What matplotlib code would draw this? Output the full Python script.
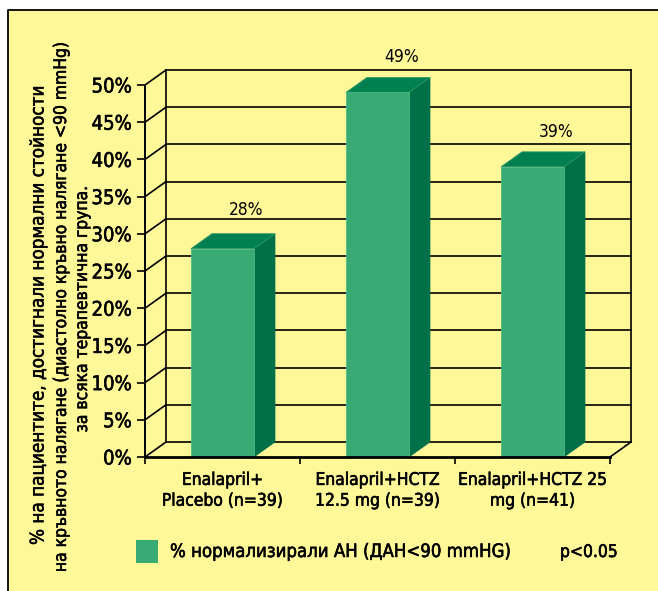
import matplotlib
matplotlib.use("Agg")
import matplotlib.pyplot as plt
from matplotlib import font_manager as fm
from matplotlib import patheffects as pe
from matplotlib.patches import Rectangle, Polygon
from matplotlib.lines import Line2D

# ---------------- data ----------------
categories = ["Enalapril+\nPlacebo (n=39)",
              "Enalapril+HCTZ\n12.5 mg (n=39)",
              "Enalapril+HCTZ 25\nmg (n=41)"]
values = [28, 49, 39]
value_labels = ["28%", "49%", "39%"]
yticks = [0, 5, 10, 15, 20, 25, 30, 35, 40, 45, 50]
ytick_labels = [f"{t}%" for t in yticks]
ylabel_lines = ["% на пациентите, достигнали нормални стойности",
                "на кръвното налягане (диастолно кръвно налягане <90 mmHg)",
                "за всяка терапевтична група."]
legend_label = "% нормализирали АН (ДАН<90 mmHG)"
pvalue_text = "p<0.05"

# ---------------- style ----------------
BG = "#FFF899"
FRONT = "#38AA74"
SIDE = "#007048"
TOP = "#008050"
TXT = "#000000"
BOLDEN = [pe.withStroke(linewidth=0.4, foreground=TXT)]

names = {f.name for f in fm.fontManager.ttflist}
FAM = "DejaVu Sans"
STRETCH = "normal"
if "Liberation Sans Narrow" in names:
    FAM = "Liberation Sans Narrow"
elif "DejaVu Sans Condensed" in names:
    FAM = "DejaVu Sans Condensed"
else:
    for f in fm.fontManager.ttflist:
        if f.name == "DejaVu Sans" and str(f.stretch) in ("condensed", "semi-condensed"):
            STRETCH = "condensed"
            break
plt.rcParams["font.family"] = [FAM, "DejaVu Sans"]
plt.rcParams["font.stretch"] = STRETCH

W, H = 658, 591
fig = plt.figure(figsize=(W / 100, H / 100), dpi=100)
fig.patch.set_facecolor("white")

# yellow panel with black top/left border
fx0 = 8 / W
fy1 = (H - 10) / H
fig.patches.append(Rectangle((fx0, 0), 1 - fx0, fy1, transform=fig.transFigure,
                             facecolor=BG, edgecolor="none", zorder=-10))
fig.lines.append(Line2D([fx0, fx0, 1], [0, fy1, fy1], transform=fig.transFigure,
                        color="black", lw=1.3, zorder=-9))

# front plane of the axes
left_px, right_px, bot_px, top_px = 145, 610, 457, 85
ax = fig.add_axes([left_px / W, (H - bot_px) / H, (right_px - left_px) / W,
                   (bot_px - top_px) / H])
ax.set_facecolor("none")
ax.set_xlim(-0.5, 2.5)
ax.set_ylim(0, 50)

# depth offsets (data units)
DX = 21 / 155
DY = 15 / (372 / 50)
BW = 63 / 155

# walls and grid
lw_grid = 1.2
x0, x1 = -0.5, 2.5
for t in yticks:
    ax.plot([x0, x0 + DX], [t, t + DY], color="black", lw=lw_grid, clip_on=False, zorder=1)
    ax.plot([x0 + DX, x1 + DX], [t + DY, t + DY], color="black", lw=lw_grid,
            clip_on=False, zorder=1)
ax.plot([x0 + DX, x0 + DX], [DY, 50 + DY], color="black", lw=lw_grid, clip_on=False, zorder=1)
ax.plot([x1 + DX, x1 + DX], [DY, 50 + DY], color="black", lw=lw_grid, clip_on=False, zorder=1)
ax.plot([x1, x1 + DX], [0, DY], color="black", lw=lw_grid, clip_on=False, zorder=1)

# bars
label_offsets = [17, 14.5, 14.5]
for i, v in enumerate(values):
    l, r = i - BW / 2, i + BW / 2
    ax.add_patch(Polygon([(r, 0), (r + DX, DY), (r + DX, v + DY), (r, v)],
                         closed=True, facecolor=SIDE, edgecolor=SIDE, lw=0.5,
                         clip_on=False, zorder=3))
    ax.add_patch(Polygon([(l, v), (r, v), (r + DX, v + DY), (l + DX, v + DY)],
                         closed=True, facecolor=TOP, edgecolor="#2f9a66", lw=0.6,
                         clip_on=False, zorder=3))
    ax.add_patch(Rectangle((l, 0), BW, v, facecolor=FRONT, edgecolor="#4dba84",
                           lw=0.6, clip_on=False, zorder=4))
    ax.annotate(value_labels[i], (i + DX, v + DY), xytext=(2, label_offsets[i]),
                textcoords="offset points", ha="center", va="center",
                fontsize=12.5, color=TXT, zorder=5, annotation_clip=False)

# spines / ticks
for s in ("top", "right"):
    ax.spines[s].set_visible(False)
ax.spines["left"].set_linewidth(1.4)
ax.spines["bottom"].set_linewidth(2.0)
ax.spines["left"].set_zorder(5)
ax.spines["bottom"].set_zorder(5)
ax.set_yticks(yticks)
ax.set_yticklabels(ytick_labels, fontsize=14.5, color=TXT)
ax.tick_params(axis="y", length=6, width=1.2, pad=3.5)
ax.set_xticks([-0.5, 0.5, 1.5, 2.5])
ax.set_xticklabels([])
ax.tick_params(axis="x", which="major", length=5, width=1.2)
ax.set_xticks([0, 1, 2], minor=True)
ax.set_xticklabels(categories, minor=True, fontsize=12.5, color=TXT,
                   linespacing=1.2)
ax.tick_params(axis="x", which="minor", length=0, pad=10)
for t in ax.get_yticklabels() + ax.get_xticklabels(minor=True):
    t.set_path_effects(BOLDEN)

# y label (three centred lines)
yl_x = [38, 61, 82]
yl_y = [316, 307, 309]
yl_fs = [13.5, 12.5, 12.5]
for txt, xx, yy, fs in zip(ylabel_lines, yl_x, yl_y, yl_fs):
    fig.text(xx / W, 1 - yy / H, txt, rotation=90, ha="center", va="center",
             fontsize=fs, color=TXT, path_effects=BOLDEN)

# legend
fig.patches.append(Rectangle((136 / W, 1 - 563 / H), 22 / W, 23 / H,
                             transform=fig.transFigure, facecolor=FRONT,
                             edgecolor="none", zorder=2))
fig.text(170 / W, 1 - 552 / H, legend_label, ha="left", va="center",
         fontsize=13.3, color=TXT, path_effects=BOLDEN)
fig.text(560 / W, 1 - 552 / H, pvalue_text, ha="left", va="center",
         fontsize=12.5, color=TXT, path_effects=BOLDEN)

fig.savefig("out.png", dpi=100, facecolor=fig.get_facecolor())
